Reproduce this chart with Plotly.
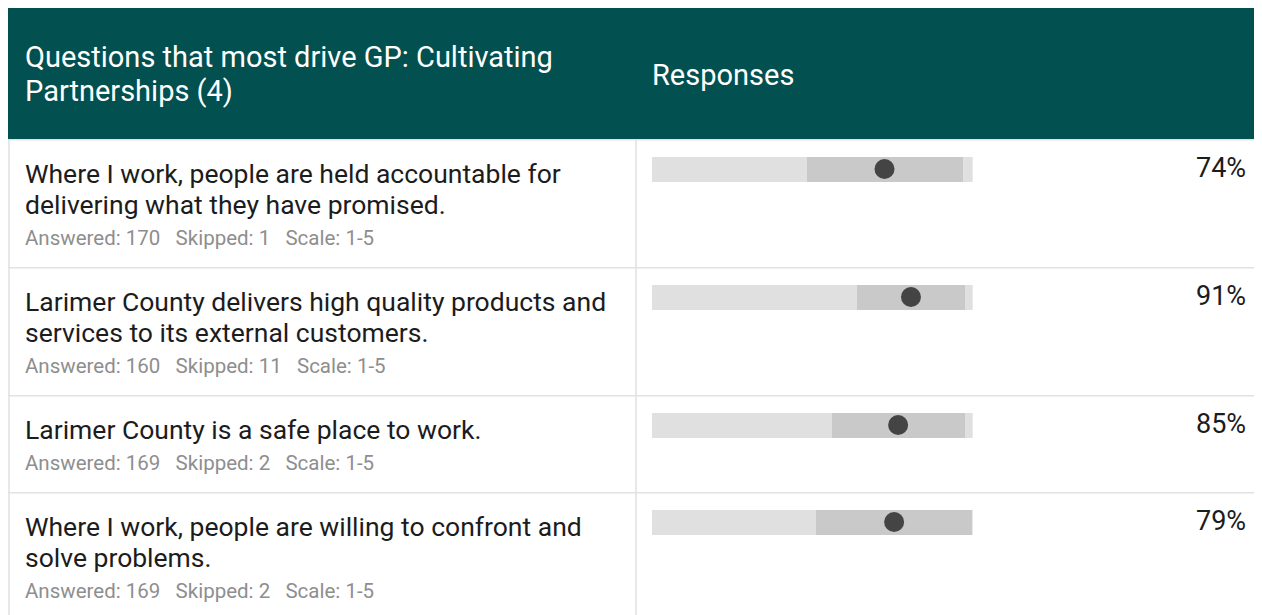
import plotly.graph_objects as go

# ---------------- data ----------------
header_question = "Questions that most drive GP: Cultivating\nPartnerships (4)"
header_responses = "Responses"
questions = [
    "Where I work, people are held accountable for\ndelivering what they have promised.",
    "Larimer County delivers high quality products and\nservices to its external customers.",
    "Larimer County is a safe place to work.",
    "Where I work, people are willing to confront and\nsolve problems.",
]
answered = [170, 160, 169, 169]
skipped = [1, 11, 2, 2]
scale_label = "1-5"
scale_min, scale_max = 1, 5
range_low = [2.93, 3.56, 3.24, 3.05]
range_high = [4.88, 4.91, 4.91, 4.99]
score = [3.90, 4.23, 4.07, 4.02]
favorable_pct = [74, 91, 85, 79]

# ---------------- layout constants (figure pixels) ----------------
W, H = 1262, 615
HEADER_TOP, HEADER_BOT = 0, 131
LEFT = 0
COL_SPLIT = 628
BAR_X0, BAR_X1 = 644, 964.7
TEXT_X = 14.5
RESP_X = 641.5
PCT_X = 1240
LINE_GAP = 31
ROW_PAD_TOP = 34.5
SUB_GAP = 33.5
ROW_PAD_BOTTOM = 29
BAR_OFFSET = 30
BAR_H = 25

HEAD_COLOR = "#02504F"
GRID = "#e2e2e2"
TRACK = "#e0e0e0"
RANGE = "#c9c9c9"
DOT = "#444444"
TXT = "#1c1c1c"
SUB = "#8e8e8e"
FONT = "Roboto"

def px(x):
    return x / W

# row geometry
row_tops = []
bar_y = []
line_ys = []
sub_ys = []
t = HEADER_BOT
for q in questions:
    lines = q.split("\n")
    row_tops.append(t)
    bar_y.append(t + BAR_OFFSET)
    ly = [t + ROW_PAD_TOP + i * LINE_GAP for i in range(len(lines))]
    line_ys.append(ly)
    sy = ly[-1] + SUB_GAP
    sub_ys.append(sy)
    t = sy + ROW_PAD_BOTTOM
row_tops.append(t)

fig = go.Figure()

n = len(questions)
fig.add_trace(go.Bar(
    x=[scale_max - scale_min] * n, base=[scale_min] * n, y=bar_y,
    orientation="h", width=BAR_H, marker=dict(color=TRACK, line=dict(width=0)),
    hoverinfo="skip", showlegend=False))
fig.add_trace(go.Bar(
    x=[h - l for l, h in zip(range_low, range_high)], base=range_low, y=bar_y,
    orientation="h", width=BAR_H, marker=dict(color=RANGE, line=dict(width=0)),
    hoverinfo="skip", showlegend=False))
fig.add_trace(go.Scatter(
    x=score, y=bar_y, mode="markers",
    marker=dict(size=20, color=DOT, line=dict(width=0)),
    cliponaxis=False, hoverinfo="skip", showlegend=False))

shapes = []
# header
shapes.append(dict(type="rect", xref="paper", yref="y", x0=px(LEFT), x1=1.0,
                   y0=HEADER_TOP, y1=HEADER_BOT, fillcolor=HEAD_COLOR,
                   line=dict(width=0), layer="below"))
# row separators
for rt in row_tops:
    shapes.append(dict(type="line", xref="paper", yref="y", x0=px(LEFT), x1=1.0,
                       y0=rt + 0.8, y1=rt + 0.8, line=dict(color=GRID, width=1.6), layer="below"))
# vertical lines
for vx in (LEFT + 1, COL_SPLIT):
    shapes.append(dict(type="line", xref="paper", yref="y", x0=px(vx), x1=px(vx),
                       y0=HEADER_BOT, y1=H + 10, line=dict(color=GRID, width=1.6), layer="below"))

ann = []
hl = header_question.split("\n")
for i, s in enumerate(hl):
    ann.append(dict(text=s, xref="paper", yref="y", x=px(TEXT_X), y=49 + i * 34,
                    xanchor="left", yanchor="middle", showarrow=False,
                    font=dict(family=FONT, size=29, color="white")))
ann.append(dict(text=header_responses, xref="paper", yref="y", x=px(RESP_X), y=67,
                xanchor="left", yanchor="middle", showarrow=False,
                font=dict(family=FONT, size=29, color="white")))

NB = "\u00a0"
for i, q in enumerate(questions):
    for s, yy in zip(q.split("\n"), line_ys[i]):
        ann.append(dict(text=s, xref="paper", yref="y", x=px(TEXT_X), y=yy,
                        xanchor="left", yanchor="middle", showarrow=False,
                        font=dict(family=FONT, size=26.5, color=TXT)))
    sub = f"Answered: {answered[i]}{NB*3}Skipped: {skipped[i]}{NB*3}Scale: {scale_label}"
    ann.append(dict(text=sub, xref="paper", yref="y", x=px(TEXT_X), y=sub_ys[i],
                    xanchor="left", yanchor="middle", showarrow=False,
                    font=dict(family=FONT, size=20.5, color=SUB)))
    ann.append(dict(text=f"{favorable_pct[i]}%", xref="paper", yref="y", x=px(PCT_X),
                    y=bar_y[i] - 1.5, xanchor="right", yanchor="middle", showarrow=False,
                    font=dict(family=FONT, size=27, color=TXT)))

fig.update_layout(
    width=W, height=H, margin=dict(l=0, r=0, t=0, b=0),
    paper_bgcolor="white", plot_bgcolor="rgba(0,0,0,0)",
    barmode="overlay", bargap=0,
    xaxis=dict(domain=[px(BAR_X0), px(BAR_X1)], range=[scale_min, scale_max],
               visible=False, fixedrange=True),
    yaxis=dict(domain=[0, 1], range=[H, 0], visible=False, fixedrange=True),
    shapes=shapes, annotations=ann, showlegend=False,
)

fig.write_html("out.html", post_script="document.documentElement.style.overflow='hidden';document.body.style.overflow='hidden';")
